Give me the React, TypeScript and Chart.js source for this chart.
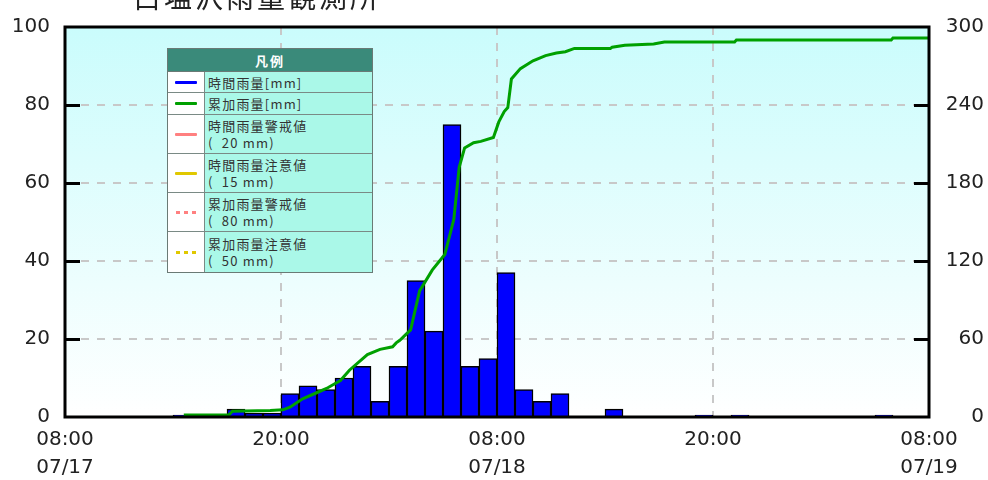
import React, { useEffect, useRef } from 'react';
import { Chart, registerables } from 'chart.js';

Chart.register(...registerables);

const stationName = '白塩沢雨量観測所';

// hourly rainfall [mm], one value per hour starting 07/17 08:00
const hourlyRain = [
  0, 0, 0, 0, 0, 0, 0.5, 0, 0, 2, 1, 1,
  6, 8, 7, 10, 13, 4, 13, 35, 22, 75, 13, 15,
  37, 7, 4, 6, 0, 0, 2, 0, 0, 0, 0, 0.5,
  0, 0.5, 0, 0, 0, 0, 0, 0, 0, 0.5, 0, 0,
];

// cumulative rainfall [mm] read at hours after 07/17 08:00
const cumHours = [
  6.6, 9.1, 9.3, 11.4, 12.1, 12.5, 13.2, 14.2, 14.6, 15.3, 15.8, 16.8, 17.5, 18.2, 18.4, 18.6,
  19.2, 19.7, 20.4, 21.1, 21.6, 21.9, 22.2, 22.7, 23.1, 23.8, 24.1, 24.4, 24.6, 24.8, 25.3,
  26.0, 26.7, 27.3, 27.8, 28.3, 30.3, 30.4, 31.1, 32.7, 33.3, 37.2, 37.3, 45.9, 46.0, 48,
];
const cumRain = [
  1.5, 1.5, 4.5, 5, 5.5, 7.5, 14, 20, 22.5, 28, 36, 48, 52, 54, 57, 59,
  67, 97, 113, 125, 152, 192, 207, 211, 212, 215, 227, 235, 238, 260, 268,
  274, 278, 280, 281, 283.5, 283.5, 284.5, 286, 287, 288.5, 288.5, 290, 290, 291.5, 291.5,
];

const xTickHours = [0, 12, 24, 36, 48];
const xTickTimes = ['08:00', '20:00', '08:00', '20:00', '08:00'];
const xTickDates = ['07/17', '', '07/18', '', '07/19'];

const legendTitle = '凡例';
const legendRows = [
  { line1: '時間雨量[mm]', line2: '', color: '#0000ff', dotted: false },
  { line1: '累加雨量[mm]', line2: '', color: '#00a000', dotted: false },
  { line1: '時間雨量警戒値', line2: '(  20 mm)', color: '#ff8080', dotted: false },
  { line1: '時間雨量注意値', line2: '(  15 mm)', color: '#e0c800', dotted: false },
  { line1: '累加雨量警戒値', line2: '(  80 mm)', color: '#ff8080', dotted: true },
  { line1: '累加雨量注意値', line2: '(  50 mm)', color: '#e0c800', dotted: true },
];

const FONT = '"DejaVu Sans", sans-serif';

export default function App() {
  const ref = useRef<HTMLCanvasElement>(null);

  useEffect(() => {
    document.body.style.margin = '0';
    const canvas = ref.current!;

    const bgPlugin = {
      id: 'bg',
      beforeDraw(chart: any) {
        const { ctx, chartArea: a } = chart;
        const g = ctx.createLinearGradient(0, a.top, 0, a.bottom);
        g.addColorStop(0, '#cafcfc');
        g.addColorStop(1, '#ffffff');
        ctx.save();
        ctx.fillStyle = g;
        ctx.fillRect(a.left, a.top, a.right - a.left, a.bottom - a.top);
        ctx.restore();
      },
    };

    const framePlugin = {
      id: 'frame',
      afterDatasetsDraw(chart: any) {
        const { ctx, chartArea: a, scales } = chart;
        ctx.save();
        ctx.strokeStyle = '#000';
        ctx.lineWidth = 3;
        ctx.strokeRect(a.left, a.top, a.right - a.left, a.bottom - a.top);
        const y = scales.y;
        y.ticks.forEach((t: any) => {
          if (t.value <= y.min || t.value >= y.max) return;
          const py = Math.round(y.getPixelForValue(t.value)) + 0.5;
          ctx.beginPath();
          ctx.moveTo(a.left, py);
          ctx.lineTo(a.left + 15, py);
          ctx.stroke();
        });
        const y1 = scales.y1;
        y1.ticks.forEach((t: any) => {
          if (t.value <= y1.min || t.value >= y1.max) return;
          const py = Math.round(y1.getPixelForValue(t.value)) + 0.5;
          ctx.beginPath();
          ctx.moveTo(a.right - 15, py);
          ctx.lineTo(a.right, py);
          ctx.stroke();
        });
        ctx.restore();
      },
    };

    const chart = new Chart(canvas, {
      type: 'bar',
      data: {
        datasets: [
          {
            type: 'line',
            label: '累加雨量',
            data: cumHours.map((h, i) => ({ x: h, y: cumRain[i] })),
            yAxisID: 'y1',
            borderColor: '#00a000',
            borderWidth: 3,
            pointRadius: 0,
            tension: 0,
            fill: false,
            order: 0,
          } as any,
          {
            type: 'bar',
            label: '時間雨量',
            data: hourlyRain.map((v, i) => ({ x: i + 0.5, y: v })),
            yAxisID: 'y',
            backgroundColor: '#0000ff',
            borderColor: '#000000',
            borderWidth: 1.5,
            borderSkipped: 'start',
            barPercentage: 1,
            categoryPercentage: 1,
            order: 1,
          } as any,
        ],
      },
      options: {
        animation: false,
        responsive: false,
        devicePixelRatio: 1,
        layout: { padding: { top: 16, right: 4, left: 0, bottom: 0 } },
        plugins: { legend: { display: false }, tooltip: { enabled: false } },
        scales: {
          x: {
            type: 'linear',
            min: 0,
            max: 48,
            offset: false,
            afterFit: (s: any) => { s.height = 63; },
            afterBuildTicks: (s: any) => { s.ticks = xTickHours.map((v) => ({ value: v })); },
            ticks: {
              autoSkip: false,
              maxRotation: 0,
              padding: 9,
              color: '#222',
              font: { family: FONT, size: 20, lineHeight: 1.4 },
              callback: (v: any) => {
                const i = xTickHours.indexOf(Number(v));
                if (i < 0) return '';
                return xTickDates[i] ? [xTickTimes[i], xTickDates[i]] : xTickTimes[i];
              },
            },
            grid: {
              offset: false,
              drawTicks: false,
              color: (c: any) => (c.tick && (c.tick.value === 0 || c.tick.value === 48) ? 'rgba(0,0,0,0)' : '#c8c8c8'),
              lineWidth: 2,
            },
            border: { display: false, dash: [8, 8] },
          },
          y: {
            position: 'left',
            min: 0,
            max: 100,
            afterFit: (s: any) => { s.width = 65; },
            ticks: {
              stepSize: 20,
              padding: 15,
              color: '#222',
              font: { family: FONT, size: 20 },
            },
            grid: {
              drawTicks: false,
              color: (c: any) => (c.tick && (c.tick.value === 0 || c.tick.value === 100) ? 'rgba(0,0,0,0)' : '#c8c8c8'),
              lineWidth: 2,
            },
            border: { display: false, dash: [8, 8] },
          },
          y1: {
            position: 'right',
            min: 0,
            max: 300,
            afterFit: (s: any) => { s.width = 55; },
            ticks: {
              stepSize: 60,
              padding: 15,
              crossAlign: 'far',
              color: '#222',
              font: { family: FONT, size: 20 },
            },
            grid: { display: false, drawTicks: false },
            border: { display: false },
          },
        },
      } as any,
      plugins: [bgPlugin, framePlugin],
    });
    return () => chart.destroy();
  }, []);

  const cellText: React.CSSProperties = {
    fontFamily: '"Noto Sans CJK JP", sans-serif',
    fontSize: 13,
    lineHeight: '17px',
    color: '#333',
    letterSpacing: 1.2,
    whiteSpace: 'pre',
  };

  const rowHeights = [21, 22, 39, 39, 39, 40];

  return (
    <div style={{ position: 'relative', width: 988, height: 480, overflow: 'hidden', background: '#fff' }}>
      <canvas ref={ref} width={988} height={480} style={{ position: 'absolute', left: 0, top: 0 }} />
      <div
        style={{
          position: 'absolute',
          left: 133,
          top: -19,
          fontFamily: '"Noto Sans CJK JP", sans-serif',
          fontSize: 28,
          lineHeight: '30px',
          letterSpacing: 3,
          color: '#222',
          whiteSpace: 'nowrap',
        }}
      >
        {stationName}
      </div>
      <div
        style={{
          position: 'absolute',
          left: 167,
          top: 48,
          width: 204,
          border: '1px solid #6a7a75',
          background: '#fff',
        }}
      >
        <div
          style={{
            height: 23,
            background: '#3a8a7a',
            color: '#fff',
            fontFamily: '"Noto Sans CJK JP", sans-serif',
            fontWeight: 'bold',
            fontSize: 13,
            lineHeight: '23px',
            textAlign: 'center',
            letterSpacing: 2,
            borderBottom: '1px solid #6a7a75',
            boxSizing: 'border-box',
          }}
        >
          {legendTitle}
        </div>
        {legendRows.map((r, i) => (
          <div
            key={i}
            style={{
              display: 'flex',
              height: rowHeights[i],
              borderBottom: i < legendRows.length - 1 ? '1px solid #7a8a85' : 'none',
              boxSizing: 'border-box',
            }}
          >
            <div
              style={{
                width: 37,
                background: '#fff',
                borderRight: '1px solid #7a8a85',
                display: 'flex',
                alignItems: 'center',
                justifyContent: 'center',
                boxSizing: 'border-box',
              }}
            >
              {r.dotted ? (
                <div style={{ display: 'flex', gap: 4 }}>
                  {[0, 1, 2].map((k) => (
                    <div key={k} style={{ width: 4, height: 3, background: r.color }} />
                  ))}
                </div>
              ) : (
                <div style={{ width: 22, height: 3, background: r.color, borderRadius: 1 }} />
              )}
            </div>
            <div
              style={{
                flex: 1,
                background: '#aaf8e8',
                paddingLeft: 3,
                display: 'flex',
                flexDirection: 'column',
                justifyContent: 'center',
              }}
            >
              <div style={cellText}>{r.line1}</div>
              {r.line2 ? <div style={cellText}>{r.line2}</div> : null}
            </div>
          </div>
        ))}
      </div>
    </div>
  );
}
